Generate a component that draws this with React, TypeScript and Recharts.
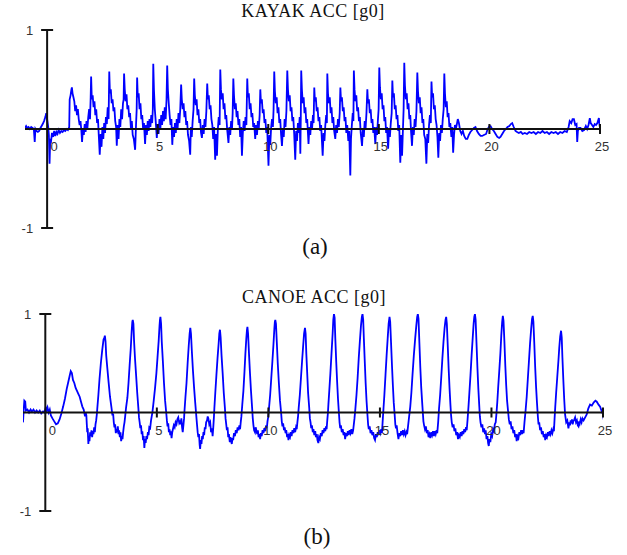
import { useMemo } from "react";
import { Line, LineChart, ReferenceDot, ReferenceLine, XAxis, YAxis } from "recharts";

type Sample = [number, number]; // [time s, acc g0]

const kayakAcc: Sample[] = [
  [-1.0, 0.01], [-0.95, 0.03], [-0.9, 0.01], [-0.84, 0.02], [-0.78, 0.0], [-0.72, 0.02], [-0.66, 0.01], [-0.6, 0.0],
  [-0.56, -0.13], [-0.53, 0.0], [-0.48, -0.02], [-0.42, -0.03], [-0.36, -0.02], [-0.3, 0.01], [-0.25, 0.03], [-0.2, 0.05],
  [-0.14, 0.08], [-0.08, 0.12], [-0.04, 0.16], [0.0, 0.1], [0.05, 0.02], [0.08, -0.06], [0.11, -0.35], [0.14, -0.1],
  [0.18, -0.12], [0.22, -0.04], [0.27, -0.08], [0.32, -0.02], [0.37, -0.07], [0.42, -0.03], [0.47, -0.05], [0.52, -0.01],
  [0.58, -0.04], [0.64, -0.02], [0.7, -0.03], [0.76, -0.01], [0.82, -0.02], [0.88, 0.0], [0.94, -0.01], [1.0, 0.02],
  [1.02, 0.3], [1.06, 0.34], [1.1, 0.4], [1.12, 0.42], [1.15, 0.36], [1.19, 0.32], [1.23, 0.28], [1.27, 0.18],
  [1.31, 0.24], [1.35, 0.14], [1.39, 0.2], [1.43, 0.1], [1.47, 0.04], [1.51, 0.08], [1.55, -0.02], [1.58, -0.13],
  [1.62, 0.0], [1.66, -0.06], [1.7, 0.05], [1.74, -0.03], [1.78, 0.08], [1.82, 0.0], [1.86, 0.12], [1.9, 0.2], [1.94, 0.1],
  [1.97, 0.32], [1.99, 0.53], [2.02, 0.3], [2.06, 0.34], [2.1, 0.22], [2.14, 0.28], [2.18, 0.14], [2.22, 0.2],
  [2.26, 0.06], [2.3, 0.1], [2.34, -0.08], [2.38, -0.26], [2.42, -0.05], [2.46, -0.18], [2.5, 0.02], [2.54, -0.1],
  [2.58, 0.06], [2.62, -0.04], [2.66, 0.12], [2.7, 0.05], [2.74, 0.22], [2.78, 0.1],
  [2.81, 0.58], [2.84, 0.36], [2.88, 0.4], [2.92, 0.26], [2.96, 0.3], [3.0, 0.18], [3.04, 0.22], [3.08, 0.08],
  [3.12, 0.02], [3.15, -0.17], [3.19, 0.04], [3.23, -0.1], [3.27, 0.1], [3.31, 0.02], [3.35, 0.2], [3.39, 0.1], [3.43, 0.26],
  [3.46, 0.3], [3.48, 0.56], [3.51, 0.4], [3.55, 0.28], [3.59, 0.35], [3.63, 0.2], [3.67, 0.24], [3.71, 0.12],
  [3.75, 0.16], [3.79, 0.0], [3.83, 0.08], [3.87, -0.06], [3.92, -0.1], [3.98, -0.21], [4.02, 0.04], [4.05, 0.2],
  [4.07, 0.52], [4.1, 0.32], [4.14, 0.36], [4.18, 0.2], [4.22, 0.26], [4.26, 0.1], [4.3, 0.14], [4.34, 0.0],
  [4.38, 0.06], [4.43, -0.15], [4.47, 0.04], [4.51, -0.06], [4.55, 0.08], [4.59, -0.02], [4.63, 0.1], [4.67, 0.02],
  [4.71, 0.14], [4.75, 0.06],
  [4.78, 0.2], [4.8, 0.66], [4.83, 0.4], [4.87, 0.2], [4.91, 0.08], [4.96, -0.09], [5.0, 0.05], [5.04, -0.05],
  [5.08, 0.1], [5.12, 0.0], [5.16, 0.14], [5.2, 0.04], [5.24, 0.18], [5.28, 0.08], [5.32, 0.22], [5.36, 0.1], [5.4, 0.3],
  [5.43, 0.64], [5.46, 0.4], [5.5, 0.26], [5.54, 0.14], [5.58, 0.04], [5.62, 0.1], [5.66, -0.16], [5.7, 0.02],
  [5.74, -0.08], [5.78, 0.06], [5.82, -0.04], [5.86, 0.1], [5.9, 0.0], [5.94, 0.16], [5.98, 0.06], [6.02, 0.2],
  [6.06, 0.45], [6.09, 0.3], [6.13, 0.2], [6.17, 0.26], [6.21, 0.12], [6.25, 0.18], [6.29, 0.04], [6.33, 0.08],
  [6.37, -0.06], [6.42, -0.12], [6.47, -0.26], [6.5, 0.02], [6.54, -0.08], [6.58, 0.08], [6.62, 0.2],
  [6.65, 0.51], [6.68, 0.34], [6.72, 0.24], [6.76, 0.3], [6.8, 0.14], [6.84, 0.2], [6.88, 0.06], [6.92, 0.1],
  [6.96, -0.04], [7.0, -0.09], [7.04, 0.04], [7.08, -0.05], [7.12, 0.1], [7.16, 0.02], [7.2, 0.18],
  [7.24, 0.46], [7.27, 0.3], [7.31, 0.34], [7.35, 0.2], [7.39, 0.24], [7.43, 0.1], [7.47, 0.04], [7.51, -0.1],
  [7.55, 0.02], [7.6, -0.31], [7.64, -0.05], [7.68, -0.27], [7.72, 0.0], [7.76, 0.12], [7.8, 0.04],
  [7.83, 0.6], [7.86, 0.4], [7.9, 0.3], [7.94, 0.36], [7.98, 0.2], [8.02, 0.26], [8.06, 0.1], [8.1, 0.14],
  [8.14, 0.0], [8.2, -0.14], [8.24, 0.02], [8.28, -0.06], [8.32, 0.08], [8.36, 0.0], [8.39, 0.16],
  [8.42, 0.51], [8.45, 0.34], [8.49, 0.2], [8.53, 0.26], [8.57, 0.12], [8.61, 0.18], [8.65, 0.04], [8.69, 0.1],
  [8.73, -0.08], [8.77, 0.02], [8.81, -0.27], [8.85, -0.04], [8.89, 0.08], [8.93, -0.02], [8.97, 0.12], [9.01, 0.04],
  [9.05, 0.51], [9.08, 0.32], [9.12, 0.36], [9.16, 0.2], [9.2, 0.26], [9.24, 0.12], [9.28, 0.16], [9.32, 0.02],
  [9.36, 0.06], [9.41, -0.1], [9.45, 0.04], [9.49, -0.06], [9.53, 0.08], [9.57, 0.0], [9.61, 0.14],
  [9.64, 0.4], [9.67, 0.26], [9.71, 0.3], [9.75, 0.16], [9.79, 0.2], [9.83, 0.06], [9.87, 0.1], [9.91, -0.04],
  [9.95, 0.02], [10.01, -0.37], [10.05, -0.06], [10.09, -0.16], [10.13, 0.02], [10.17, 0.1], [10.21, 0.02], [10.24, 0.2],
  [10.27, 0.58], [10.3, 0.38], [10.34, 0.26], [10.38, 0.32], [10.42, 0.16], [10.46, 0.22], [10.5, 0.06], [10.54, 0.1],
  [10.58, -0.06], [10.62, -0.17], [10.66, 0.0], [10.7, -0.08], [10.74, 0.1], [10.78, 0.02], [10.82, 0.18],
  [10.86, 0.59], [10.89, 0.4], [10.93, 0.28], [10.97, 0.34], [11.01, 0.18], [11.05, 0.22], [11.09, 0.08], [11.13, 0.12],
  [11.17, -0.04], [11.22, -0.31], [11.26, -0.02], [11.3, -0.12], [11.34, 0.06], [11.38, -0.04], [11.42, 0.12], [11.45, -0.25], [11.47, 0.1],
  [11.49, 0.59], [11.52, 0.4], [11.56, 0.26], [11.6, 0.32], [11.64, 0.16], [11.68, 0.22], [11.72, 0.06], [11.76, 0.1],
  [11.82, -0.15], [11.86, 0.02], [11.9, -0.06], [11.94, 0.08], [11.98, 0.0], [12.02, 0.14], [12.05, 0.06],
  [12.08, 0.42], [12.11, 0.28], [12.15, 0.32], [12.19, 0.18], [12.23, 0.22], [12.27, 0.08], [12.31, 0.12], [12.35, -0.02],
  [12.39, 0.04], [12.46, -0.27], [12.5, -0.04], [12.54, -0.12], [12.58, 0.04], [12.62, 0.14], [12.65, 0.06],
  [12.67, 0.56], [12.7, 0.36], [12.74, 0.26], [12.78, 0.32], [12.82, 0.16], [12.86, 0.22], [12.9, 0.06], [12.94, 0.12],
  [12.98, -0.02], [13.03, -0.1], [13.07, 0.04], [13.11, -0.04], [13.15, 0.1], [13.19, 0.02], [13.23, 0.16],
  [13.26, 0.42], [13.29, 0.28], [13.33, 0.32], [13.37, 0.18], [13.41, 0.22], [13.45, 0.08], [13.49, 0.12], [13.53, -0.04],
  [13.57, 0.04], [13.62, -0.12], [13.66, -0.02], [13.71, -0.47], [13.74, -0.1], [13.78, 0.04], [13.82, 0.16], [13.85, 0.08],
  [13.87, 0.59], [13.9, 0.4], [13.94, 0.28], [13.98, 0.34], [14.02, 0.18], [14.06, 0.22], [14.1, 0.08], [14.14, 0.12],
  [14.18, -0.04], [14.24, -0.17], [14.28, 0.0], [14.32, -0.08], [14.36, 0.08], [14.4, 0.0], [14.44, 0.16],
  [14.48, 0.4], [14.51, 0.26], [14.55, 0.3], [14.59, 0.16], [14.63, 0.2], [14.67, 0.06], [14.71, 0.1], [14.75, -0.04],
  [14.79, 0.02], [14.84, -0.15], [14.88, 0.02], [14.92, -0.06], [14.96, 0.1], [14.99, 0.2],
  [15.02, 0.62], [15.05, 0.42], [15.09, 0.3], [15.13, 0.36], [15.17, 0.2], [15.21, 0.24], [15.25, 0.08], [15.29, 0.12],
  [15.33, -0.04], [15.37, 0.02], [15.42, -0.2], [15.46, 0.0], [15.5, -0.08], [15.54, 0.06], [15.58, 0.16],
  [15.61, 0.49], [15.64, 0.32], [15.68, 0.36], [15.72, 0.2], [15.76, 0.24], [15.8, 0.1], [15.84, 0.14], [15.88, -0.02],
  [15.92, 0.04], [15.97, -0.34], [16.01, -0.06], [16.05, -0.27], [16.09, 0.0], [16.12, 0.2],
  [16.15, 0.67], [16.18, 0.44], [16.22, 0.3], [16.26, 0.36], [16.3, 0.2], [16.34, 0.26], [16.38, 0.1], [16.42, 0.14],
  [16.46, -0.04], [16.5, -0.17], [16.54, 0.02], [16.58, -0.06], [16.62, 0.1], [16.66, 0.02], [16.7, 0.18],
  [16.74, 0.57], [16.77, 0.38], [16.81, 0.26], [16.85, 0.32], [16.89, 0.16], [16.93, 0.22], [16.97, 0.06], [17.01, 0.1],
  [17.05, -0.06], [17.1, -0.1], [17.15, -0.35], [17.19, -0.05], [17.23, -0.14], [17.27, 0.04], [17.31, 0.14], [17.35, 0.06],
  [17.38, 0.48], [17.41, 0.32], [17.45, 0.36], [17.49, 0.2], [17.53, 0.24], [17.57, 0.1], [17.61, 0.04], [17.65, -0.08],
  [17.69, -0.29], [17.73, -0.04], [17.77, -0.12], [17.81, 0.04], [17.85, -0.04], [17.89, 0.1], [17.93, 0.2],
  [17.96, 0.56], [17.99, 0.36], [18.03, 0.22], [18.07, 0.28], [18.11, 0.12], [18.15, 0.16], [18.19, 0.02], [18.23, 0.06],
  [18.28, -0.08], [18.32, 0.02], [18.36, -0.24], [18.4, -0.06], [18.44, 0.04], [18.48, 0.0],
  [18.52, 0.04], [18.57, 0.1], [18.62, 0.06], [18.68, -0.02], [18.74, -0.05], [18.8, -0.02], [18.86, -0.07], [18.93, -0.1],
  [19.0, -0.1], [19.07, -0.06], [19.14, -0.03], [19.22, -0.01], [19.3, 0.01], [19.37, 0.02], [19.44, -0.02], [19.52, -0.05],
  [19.6, -0.07], [19.67, -0.07], [19.75, -0.06], [19.85, -0.05], [19.92, 0.0], [20.0, 0.03], [20.05, 0.03], [20.12, 0.0],
  [20.2, -0.02], [20.28, -0.05], [20.36, -0.08], [20.44, -0.09], [20.5, -0.08], [20.58, -0.05], [20.66, -0.02], [20.74, 0.0],
  [20.82, 0.02], [20.9, 0.03], [20.97, 0.05], [21.03, 0.06], [21.1, 0.02], [21.18, -0.02], [21.25, -0.03], [21.33, -0.04],
  [21.42, -0.03], [21.5, -0.05], [21.6, -0.04], [21.7, -0.05], [21.8, -0.03], [21.9, -0.04], [22.0, -0.03], [22.1, -0.05],
  [22.2, -0.03], [22.3, -0.04], [22.4, -0.02], [22.5, -0.04], [22.6, -0.03], [22.7, -0.05], [22.8, -0.03], [22.9, -0.04],
  [23.0, -0.03], [23.1, -0.05], [23.2, -0.03], [23.3, -0.04], [23.4, -0.02], [23.5, -0.03], [23.58, 0.02], [23.63, 0.08],
  [23.7, 0.06], [23.76, 0.1], [23.82, 0.1], [23.88, 0.04], [23.94, 0.05], [23.97, -0.13], [24.0, -0.02], [24.05, 0.01],
  [24.12, 0.01], [24.2, -0.02], [24.28, -0.01], [24.36, 0.03], [24.42, 0.0], [24.48, 0.04], [24.54, 0.11], [24.58, 0.06],
  [24.64, 0.04], [24.7, 0.02], [24.76, 0.05], [24.82, 0.04], [24.88, 0.06], [24.95, 0.11], [24.98, 0.04], [25.0, 0.01],
];

const canoeAcc: Sample[] = [
  [-1.0, -0.1], [-0.97, 0.02], [-0.94, 0.12], [-0.9, 0.11], [-0.87, 0.02], [-0.8, 0.03], [-0.73, 0.0], [-0.66, 0.03],
  [-0.6, 0.01], [-0.53, 0.03], [-0.46, 0.0], [-0.39, 0.02], [-0.32, 0.0], [-0.25, 0.02], [-0.18, -0.01], [-0.1, 0.01],
  [-0.04, 0.0], [0.02, 0.05], [0.06, 0.02], [0.1, 0.05], [0.15, 0.0], [0.2, 0.03], [0.25, -0.03], [0.32, -0.06],
  [0.4, -0.09], [0.48, -0.12], [0.56, -0.11], [0.64, -0.07], [0.72, -0.01], [0.8, 0.06], [0.88, 0.14], [0.96, 0.24],
  [1.03, 0.31], [1.09, 0.37], [1.14, 0.42], [1.19, 0.4], [1.24, 0.33], [1.3, 0.3], [1.36, 0.25], [1.42, 0.22],
  [1.48, 0.19], [1.54, 0.16], [1.6, 0.11], [1.66, 0.06], [1.72, 0.03],
  [1.78, -0.04], [1.81, 0.0], [1.84, -0.03], [1.86, -0.12], [1.88, -0.2], [1.9, -0.16], [1.93, -0.32], [1.95, -0.25],
  [1.98, -0.29], [2.01, -0.2], [2.04, -0.24], [2.07, -0.18], [2.1, -0.25], [2.13, -0.19], [2.16, -0.22], [2.19, -0.15],
  [2.22, -0.2], [2.25, -0.12], [2.28, -0.08], [2.31, -0.02], [2.33, 0.04],
  [2.38, 0.18], [2.43, 0.34], [2.49, 0.5], [2.55, 0.63], [2.61, 0.74], [2.65, 0.76], [2.67, 0.78], [2.7, 0.72], [2.73, 0.58],
  [2.78, 0.45], [2.84, 0.3], [2.9, 0.16], [2.96, 0.06],
  [3.01, -0.03], [3.04, -0.01], [3.07, -0.1], [3.1, -0.15], [3.13, -0.12], [3.16, -0.21], [3.19, -0.17], [3.22, -0.2],
  [3.25, -0.14], [3.28, -0.22], [3.31, -0.18], [3.34, -0.25], [3.37, -0.2], [3.4, -0.29], [3.43, -0.24], [3.46, -0.27],
  [3.49, -0.2], [3.52, -0.14], [3.55, -0.1], [3.58, -0.04], [3.62, 0.05],
  [3.68, 0.15], [3.73, 0.3], [3.78, 0.48], [3.83, 0.65], [3.87, 0.82], [3.9, 0.92], [3.92, 0.94], [3.95, 0.9],
  [3.98, 0.72], [4.02, 0.55], [4.07, 0.38], [4.12, 0.2],
  [4.17, 0.05], [4.2, -0.05], [4.23, -0.1], [4.26, -0.16], [4.29, -0.13], [4.32, -0.22], [4.35, -0.19], [4.38, -0.28],
  [4.41, -0.24], [4.44, -0.36], [4.47, -0.27], [4.5, -0.31], [4.53, -0.24], [4.56, -0.27], [4.6, -0.2], [4.63, -0.23],
  [4.66, -0.15], [4.7, -0.16], [4.74, -0.08], [4.77, -0.04], [4.8, 0.0], [4.86, 0.12],
  [4.92, 0.25], [4.98, 0.4], [5.03, 0.56], [5.08, 0.72], [5.12, 0.88], [5.14, 0.94], [5.16, 0.97], [5.19, 0.9],
  [5.22, 0.72], [5.27, 0.52], [5.32, 0.3], [5.37, 0.12],
  [5.42, 0.0], [5.45, -0.08], [5.48, -0.14], [5.51, -0.11], [5.54, -0.2], [5.57, -0.17], [5.6, -0.23], [5.63, -0.19],
  [5.66, -0.26], [5.69, -0.2], [5.72, -0.17], [5.76, -0.13], [5.8, -0.15], [5.84, -0.1], [5.88, -0.12], [5.92, -0.07],
  [5.96, -0.05], [6.0, -0.1], [6.03, -0.08], [6.06, -0.12], [6.1, -0.06], [6.13, -0.15], [6.16, -0.2], [6.19, -0.13],
  [6.22, -0.06], [6.24, 0.02],
  [6.28, 0.15], [6.33, 0.3], [6.38, 0.5], [6.43, 0.68], [6.47, 0.8], [6.5, 0.86], [6.53, 0.8], [6.57, 0.62],
  [6.62, 0.42], [6.67, 0.25], [6.72, 0.1],
  [6.77, -0.04], [6.8, -0.12], [6.83, -0.2], [6.86, -0.25], [6.89, -0.22], [6.92, -0.33], [6.94, -0.37], [6.97, -0.28],
  [7.0, -0.32], [7.03, -0.24], [7.06, -0.27], [7.09, -0.2], [7.12, -0.23], [7.15, -0.15], [7.18, -0.17], [7.21, -0.1],
  [7.25, -0.08], [7.28, -0.04], [7.31, -0.06], [7.35, -0.12], [7.39, -0.1], [7.43, -0.2], [7.47, -0.16], [7.5, -0.24],
  [7.53, -0.15], [7.56, -0.04], [7.58, 0.05],
  [7.62, 0.2], [7.67, 0.38], [7.72, 0.55], [7.77, 0.7], [7.8, 0.8], [7.83, 0.84], [7.86, 0.76], [7.9, 0.58],
  [7.95, 0.4], [8.0, 0.2],
  [8.05, 0.05], [8.08, -0.06], [8.11, -0.12], [8.14, -0.18], [8.17, -0.15], [8.2, -0.25], [8.23, -0.22], [8.27, -0.3],
  [8.3, -0.25], [8.33, -0.29], [8.36, -0.32], [8.39, -0.26], [8.42, -0.28], [8.46, -0.21], [8.5, -0.24], [8.54, -0.18],
  [8.58, -0.21], [8.62, -0.15], [8.66, -0.18], [8.7, -0.13], [8.73, -0.17], [8.76, -0.1], [8.79, -0.04], [8.83, 0.08],
  [8.88, 0.22], [8.93, 0.42], [8.97, 0.6], [9.01, 0.75], [9.04, 0.84], [9.06, 0.87], [9.09, 0.8], [9.13, 0.6],
  [9.17, 0.42], [9.22, 0.22],
  [9.27, 0.05], [9.3, -0.06], [9.33, -0.13], [9.36, -0.18], [9.4, -0.2], [9.43, -0.15], [9.47, -0.19], [9.5, -0.22],
  [9.53, -0.18], [9.56, -0.25], [9.6, -0.22], [9.63, -0.27], [9.66, -0.21], [9.7, -0.24], [9.74, -0.18], [9.78, -0.21],
  [9.82, -0.16], [9.86, -0.19], [9.9, -0.13], [9.93, -0.16], [9.96, -0.09], [9.99, -0.05], [10.03, 0.05],
  [10.08, 0.18], [10.13, 0.35], [10.18, 0.52], [10.23, 0.7], [10.27, 0.86], [10.29, 0.92], [10.31, 0.94], [10.34, 0.9],
  [10.38, 0.7], [10.42, 0.5], [10.47, 0.3], [10.52, 0.12],
  [10.57, 0.0], [10.6, -0.09], [10.63, -0.14], [10.66, -0.11], [10.7, -0.18], [10.73, -0.15], [10.77, -0.21], [10.8, -0.18],
  [10.84, -0.25], [10.87, -0.22], [10.9, -0.28], [10.93, -0.23], [10.97, -0.25], [11.0, -0.2], [11.04, -0.24], [11.08, -0.18],
  [11.12, -0.21], [11.16, -0.16], [11.2, -0.2], [11.24, -0.15], [11.27, -0.17], [11.3, -0.1], [11.33, -0.04], [11.36, 0.05],
  [11.41, 0.18], [11.46, 0.35], [11.51, 0.52], [11.56, 0.68], [11.6, 0.8], [11.64, 0.86], [11.67, 0.8], [11.7, 0.6],
  [11.74, 0.4], [11.78, 0.2],
  [11.83, 0.05], [11.86, -0.06], [11.89, -0.1], [11.92, -0.16], [11.95, -0.13], [11.99, -0.2], [12.02, -0.17], [12.06, -0.23],
  [12.1, -0.19], [12.13, -0.25], [12.17, -0.22], [12.2, -0.28], [12.24, -0.31], [12.27, -0.25], [12.31, -0.27], [12.35, -0.21],
  [12.39, -0.24], [12.43, -0.18], [12.47, -0.21], [12.51, -0.16], [12.55, -0.19], [12.58, -0.14], [12.61, -0.17], [12.64, -0.08],
  [12.67, 0.0], [12.69, 0.08],
  [12.73, 0.22], [12.78, 0.4], [12.83, 0.6], [12.88, 0.8], [12.91, 0.94], [12.94, 1.0], [12.97, 0.96], [13.0, 0.75],
  [13.04, 0.52], [13.08, 0.32], [13.12, 0.14],
  [13.16, 0.0], [13.19, -0.1], [13.22, -0.16], [13.25, -0.13], [13.29, -0.2], [13.33, -0.17], [13.37, -0.23], [13.41, -0.2],
  [13.44, -0.27], [13.48, -0.21], [13.52, -0.24], [13.56, -0.19], [13.6, -0.23], [13.64, -0.18], [13.68, -0.21], [13.72, -0.17],
  [13.76, -0.22], [13.8, -0.18], [13.83, -0.12], [13.86, -0.06], [13.9, 0.04],
  [13.95, 0.18], [14.0, 0.35], [14.05, 0.55], [14.1, 0.72], [14.15, 0.88], [14.19, 0.97], [14.22, 1.0], [14.25, 0.94],
  [14.28, 0.75], [14.32, 0.52], [14.36, 0.3], [14.4, 0.12],
  [14.44, -0.02], [14.47, -0.12], [14.5, -0.17], [14.54, -0.14], [14.58, -0.21], [14.62, -0.18], [14.66, -0.23], [14.7, -0.2],
  [14.74, -0.26], [14.78, -0.28], [14.82, -0.22], [14.86, -0.25], [14.9, -0.2], [14.94, -0.23], [14.98, -0.18], [15.02, -0.21],
  [15.06, -0.17], [15.09, -0.21], [15.12, -0.1], [15.16, 0.04],
  [15.2, 0.18], [15.25, 0.38], [15.3, 0.58], [15.35, 0.76], [15.39, 0.9], [15.43, 0.97], [15.46, 0.92], [15.5, 0.7],
  [15.54, 0.48], [15.58, 0.28], [15.62, 0.1],
  [15.66, -0.02], [15.69, -0.12], [15.72, -0.16], [15.75, -0.13], [15.79, -0.21], [15.83, -0.27], [15.87, -0.21], [15.91, -0.24],
  [15.95, -0.19], [15.99, -0.23], [16.03, -0.18], [16.07, -0.22], [16.11, -0.19], [16.15, -0.23], [16.19, -0.2], [16.22, -0.22],
  [16.26, -0.14], [16.31, -0.04], [16.36, 0.06],
  [16.41, 0.2], [16.46, 0.38], [16.52, 0.58], [16.58, 0.75], [16.63, 0.88], [16.67, 0.97], [16.7, 1.0], [16.73, 0.95],
  [16.77, 0.7], [16.81, 0.46], [16.85, 0.26], [16.9, 0.08],
  [16.95, -0.09], [16.98, -0.13], [17.02, -0.17], [17.06, -0.14], [17.1, -0.21], [17.14, -0.18], [17.18, -0.25], [17.22, -0.22],
  [17.26, -0.26], [17.3, -0.2], [17.34, -0.23], [17.38, -0.19], [17.42, -0.24], [17.46, -0.19], [17.5, -0.22], [17.54, -0.18],
  [17.57, -0.21], [17.61, -0.1], [17.65, 0.04],
  [17.7, 0.18], [17.75, 0.36], [17.8, 0.55], [17.85, 0.72], [17.9, 0.86], [17.94, 0.94], [17.97, 0.97], [18.0, 0.9],
  [18.04, 0.68], [18.08, 0.45], [18.12, 0.25],
  [18.16, 0.08], [18.19, -0.03], [18.22, -0.1], [18.26, -0.15], [18.3, -0.12], [18.34, -0.19], [18.38, -0.16], [18.42, -0.23],
  [18.46, -0.2], [18.5, -0.27], [18.54, -0.23], [18.58, -0.25], [18.62, -0.2], [18.66, -0.24], [18.7, -0.19], [18.74, -0.22],
  [18.78, -0.17], [18.82, -0.2], [18.86, -0.15], [18.89, -0.18], [18.93, -0.07], [18.97, 0.06],
  [19.01, 0.2], [19.06, 0.38], [19.11, 0.58], [19.16, 0.76], [19.2, 0.9], [19.23, 0.97], [19.26, 1.0], [19.29, 0.94],
  [19.33, 0.7], [19.37, 0.46], [19.41, 0.25],
  [19.45, 0.08], [19.48, -0.04], [19.51, -0.1], [19.55, -0.15], [19.59, -0.12], [19.63, -0.2], [19.67, -0.16], [19.71, -0.22],
  [19.74, -0.18], [19.78, -0.27], [19.82, -0.24], [19.85, -0.31], [19.88, -0.34], [19.91, -0.27], [19.95, -0.3], [19.99, -0.22],
  [20.03, -0.24], [20.07, -0.17], [20.11, -0.19], [20.15, -0.12], [20.19, -0.1], [20.22, -0.02], [20.26, 0.1],
  [20.3, 0.25], [20.35, 0.42], [20.4, 0.6], [20.44, 0.78], [20.48, 0.92], [20.51, 0.98], [20.54, 0.93], [20.58, 0.72],
  [20.62, 0.48], [20.66, 0.28], [20.7, 0.12],
  [20.75, 0.0], [20.78, -0.07], [20.82, -0.12], [20.86, -0.09], [20.9, -0.17], [20.94, -0.14], [20.98, -0.21], [21.02, -0.18],
  [21.06, -0.25], [21.1, -0.22], [21.13, -0.29], [21.17, -0.24], [21.21, -0.26], [21.25, -0.2], [21.29, -0.23], [21.33, -0.18],
  [21.37, -0.22], [21.41, -0.18], [21.44, -0.21], [21.48, -0.1], [21.53, 0.02],
  [21.58, 0.16], [21.63, 0.34], [21.68, 0.52], [21.73, 0.7], [21.78, 0.85], [21.82, 0.95], [21.85, 0.98], [21.88, 0.92],
  [21.92, 0.7], [21.96, 0.46], [22.0, 0.26], [22.04, 0.1],
  [22.08, -0.04], [22.11, -0.12], [22.14, -0.1], [22.18, -0.18], [22.22, -0.15], [22.26, -0.22], [22.3, -0.19], [22.34, -0.25],
  [22.38, -0.22], [22.41, -0.28], [22.45, -0.23], [22.49, -0.25], [22.53, -0.2], [22.57, -0.24], [22.61, -0.19], [22.65, -0.22],
  [22.69, -0.18], [22.73, -0.21], [22.77, -0.17], [22.8, -0.19], [22.83, -0.06], [22.86, 0.06],
  [22.9, 0.2], [22.95, 0.36], [23.0, 0.52], [23.04, 0.66], [23.08, 0.77], [23.12, 0.83], [23.15, 0.76], [23.18, 0.56],
  [23.22, 0.34], [23.26, 0.14], [23.3, -0.02], [23.35, -0.1], [23.4, -0.08], [23.45, -0.16], [23.49, -0.1], [23.52, -0.13],
  [23.55, -0.08], [23.58, -0.11], [23.61, -0.07], [23.64, -0.12], [23.67, -0.09], [23.7, -0.08], [23.75, -0.05], [23.79, -0.1],
  [23.83, -0.08], [23.87, -0.13], [23.9, -0.14], [23.93, -0.09], [23.96, -0.11], [24.0, -0.07], [24.04, -0.1], [24.08, -0.06],
  [24.13, -0.08], [24.2, -0.05], [24.27, -0.02], [24.34, 0.04], [24.42, 0.08], [24.5, 0.07], [24.58, 0.1], [24.66, 0.12],
  [24.72, 0.11], [24.8, 0.08], [24.87, 0.06], [24.93, 0.02], [25.0, -0.02], [25.03, -0.07],
];

const timeDomain = [-1, 25];
const accDomain = [-1, 1];
const timeTicks = [0, 5, 10, 15, 20, 25];
const accTicks = [1, -1];
const panelTitles = ["KAYAK ACC [g0]", "CANOE ACC [g0]"];
const panelCaptions = ["(a)", "(b)"];

const AXIS = "#111";
const TRACE = "#0000ff";
const SANS = "'Liberation Sans', Arial, sans-serif";
const SERIF = "'Liberation Serif', 'Times New Roman', serif";

type PanelProps = {
  samples: Sample[];
  width: number;
  height: number;
  margin: { top: number; right: number; bottom: number; left: number };
};

function AccPanel({ samples, width, height, margin }: PanelProps) {
  const data = useMemo(() => samples.map(([t, g]) => ({ t, g })), [samples]);

  return (
    <LineChart width={width} height={height} data={data} margin={margin}>
      <XAxis dataKey="t" type="number" domain={timeDomain} hide allowDataOverflow />
      <YAxis type="number" domain={accDomain} hide allowDataOverflow />
      <Line
        dataKey="g"
        type="linear"
        stroke={TRACE}
        strokeWidth={1.8}
        dot={false}
        activeDot={false}
        isAnimationActive={false}
      />
      <ReferenceLine y={0} stroke={AXIS} strokeWidth={2} />
      <ReferenceLine x={0} stroke={AXIS} strokeWidth={2} />
      {timeTicks.map((t) => (
        <ReferenceDot
          key={`x${t}`}
          x={t}
          y={0}
          r={0}
          ifOverflow="visible"
          shape={(p: any) => (
            <g>
              {t !== 0 && <line x1={p.cx} x2={p.cx} y1={p.cy - 5} y2={p.cy + 5} stroke={AXIS} strokeWidth={2} />}
              <text
                x={p.cx + (t === 0 ? 7 : 2)}
                y={p.cy + 22}
                textAnchor="middle"
                fontFamily={SANS}
                fontSize={13}
                fill="#333"
              >
                {t}
              </text>
            </g>
          )}
        />
      ))}
      {accTicks.map((v) => (
        <ReferenceDot
          key={`y${v}`}
          x={0}
          y={v}
          r={0}
          ifOverflow="visible"
          shape={(p: any) => (
            <g>
              <line x1={p.cx - 6} x2={p.cx + 6} y1={p.cy} y2={p.cy} stroke={AXIS} strokeWidth={2} />
              <text x={p.cx - 14} y={p.cy + 5} textAnchor="end" fontFamily={SANS} fontSize={13} fill="#333">
                {v}
              </text>
            </g>
          )}
        />
      ))}
    </LineChart>
  );
}

export default function App() {
  return (
    <div style={{ position: "absolute", left: 0, top: 0, width: 627, height: 555, background: "#fff" }}>
      <div style={{ position: "absolute", left: 0, top: 0 }}>
        <AccPanel samples={kayakAcc} width={627} height={240} margin={{ top: 30, right: 27, bottom: 12, left: 25 }} />
      </div>
      <div style={{ position: "absolute", left: 0, top: 280 }}>
        <AccPanel samples={canoeAcc} width={627} height={250} margin={{ top: 34, right: 24, bottom: 19, left: 23 }} />
      </div>
      <svg
        width={627}
        height={555}
        style={{ position: "absolute", left: 0, top: 0, pointerEvents: "none" }}
      >
        <text x={313} y={17} textAnchor="middle" fontFamily={SERIF} fontSize={18} letterSpacing={0.5} fill="#111">
          {panelTitles[0]}
        </text>
        <text x={315} y={254} textAnchor="middle" fontFamily={SERIF} fontSize={23} fill="#111">
          {panelCaptions[0]}
        </text>
        <text x={314} y={303} textAnchor="middle" fontFamily={SERIF} fontSize={18} letterSpacing={0.5} fill="#111">
          {panelTitles[1]}
        </text>
        <text x={317} y={544} textAnchor="middle" fontFamily={SERIF} fontSize={23} fill="#111">
          {panelCaptions[1]}
        </text>
      </svg>
    </div>
  );
}
